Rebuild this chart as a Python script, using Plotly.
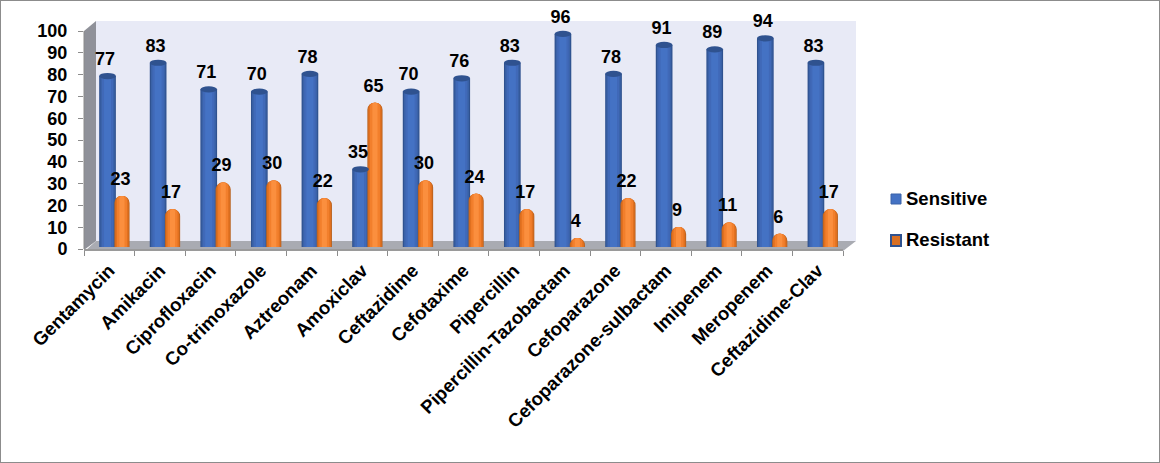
import plotly.graph_objects as go

categories = ["Gentamycin", "Amikacin", "Ciprofloxacin", "Co-trimoxazole", "Aztreonam", "Amoxiclav",
              "Ceftazidime", "Cefotaxime", "Pipercillin", "Pipercillin-Tazobactam", "Cefoparazone",
              "Cefoparazone-sulbactam", "Imipenem", "Meropenem", "Ceftazidime-Clav"]
sensitive = [77, 83, 71, 70, 78, 35, 70, 76, 83, 96, 78, 91, 89, 94, 83]
resistant = [23, 17, 29, 30, 22, 65, 30, 24, 17, 4, 22, 9, 11, 6, 17]
y_ticks = list(range(0, 101, 10))

W, H = 1160, 463
X0, X1, Y0, Y1 = 84, 843, 249, 31      # front plot frame, pixels
px = lambda v: v / W
py = lambda v: 1 - v / H
FONT = "Liberation Sans"
xs = list(range(len(categories)))
S_OFF, S_W = -0.20, 0.33
R_OFF, R_W = 0.10, 0.30
UNIT = 2.22
Y_RANGE = [-(Y0 - 247) / UNIT, 247 / UNIT]
AXIS_UNIT = (Y0 - Y1) / 100

fig = go.Figure()

def layered(vals, off, wid, layers, radius=0):
    for frac, col in layers:
        fig.add_bar(x=xs, y=vals, offset=off + wid * (1 - frac) / 2, width=wid * frac, yaxis="y2",
                    marker=dict(color=col, line=dict(width=0), cornerradius=radius * frac),
                    showlegend=False, hoverinfo="skip")

blue_layers = [(1.0, "#2f528f"), (0.86, "#3a62a8"), (0.68, "#4069b8"), (0.42, "#4472c4")]
orange_layers = [(1.0, "#b9621f"), (0.88, "#e0701f"), (0.66, "#f27f2c"), (0.34, "#fb8f3e")]
layered(sensitive, S_OFF, S_W, blue_layers)
layered(resistant, R_OFF, R_W, orange_layers, radius=7)

label_gap = 3
fig.add_scatter(x=[i + S_OFF + S_W / 2 - 0.05 for i in xs], y=[v + label_gap for v in sensitive],
                yaxis="y2", mode="text", text=[f"<b>{v}</b>" for v in sensitive], textposition="top center",
                textfont=dict(family=FONT, size=18, color="#000"), showlegend=False,
                hoverinfo="skip", cliponaxis=False)
fig.add_scatter(x=[i + R_OFF + R_W / 2 - 0.03 for i in xs], y=[v + label_gap for v in resistant],
                yaxis="y2", mode="text", text=[f"<b>{v}</b>" for v in resistant], textposition="top center",
                textfont=dict(family=FONT, size=18, color="#000"), showlegend=False,
                hoverinfo="skip", cliponaxis=False)

TRANSPARENT = "rgba(0,0,0,0)"
fig.add_scatter(x=[None], y=[None], mode="markers", name="<b>Sensitive</b>", legendgroup="a",
                marker=dict(symbol="square", size=10, color=TRANSPARENT))
fig.add_scatter(x=[None], y=[None], mode="markers", name="<b>Resistant</b>", legendgroup="b",
                marker=dict(symbol="square", size=10, color=TRANSPARENT))
fig.add_scatter(x=[None], y=[None], xaxis="x2", showlegend=False, hoverinfo="skip")

def rect_px(x0, y0, x1, y1, fill, line=None, lw=0):
    return dict(type="rect", xref="paper", yref="paper", x0=px(x0), x1=px(x1), y0=py(y1), y1=py(y0),
                fillcolor=fill, line=dict(color=line, width=lw) if lw else dict(width=0), layer="below")

shapes = [
    dict(type="rect", xref="paper", yref="paper", x0=0, x1=1, y0=0, y1=1,
         line=dict(color="#8c8c8c", width=2), fillcolor="rgba(0,0,0,0)", layer="below"),
    rect_px(96, 21, 856, 241, "#e8eaf6"),
    dict(type="path", xref="paper", yref="paper", layer="below", line=dict(width=0), fillcolor="#8f9199",
         path=f"M {px(84)} {py(31)} L {px(96)} {py(21)} L {px(96)} {py(241)} L {px(84)} {py(250)} Z"),
    dict(type="path", xref="paper", yref="paper", layer="below", line=dict(width=0), fillcolor="#a9abb2",
         path=f"M {px(86)} {py(250)} L {px(96)} {py(241)} L {px(856)} {py(241)} L {px(843)} {py(251)} Z"),
    dict(type="line", xref="paper", yref="paper", x0=px(84), x1=px(84), y0=py(Y0), y1=py(Y1),
         line=dict(color="#8c8c8c", width=1), layer="below"),
    rect_px(891, 194, 901, 204, "#4472c4", "#3a62a8", 1),
    rect_px(891, 235, 901, 246, "#d96f22", "#2f528f", 2),
]
cap_h = 1.4
for i, v in enumerate(sensitive):
    shapes.append(dict(type="circle", xref="x", yref="y2", layer="above",
                       x0=i + S_OFF, x1=i + S_OFF + S_W, y0=v - cap_h, y1=v + cap_h,
                       fillcolor="#2f528f", line=dict(width=0)))

fig.update_layout(
    width=W, height=H, margin=dict(l=0, r=0, t=0, b=0, pad=0), autosize=False,
    paper_bgcolor="#ffffff", plot_bgcolor="rgba(0,0,0,0)",
    barmode="overlay", shapes=shapes,
    font=dict(family=FONT, color="#000"),
    xaxis=dict(domain=[px(X0), px(X1)], range=[-0.5, len(categories) - 0.5], tickmode="array", automargin=False,
               tickvals=xs, ticktext=[f"<b>{c}</b>" for c in categories], tickangle=-45, ticks="", showgrid=False, zeroline=False,
               showline=False, tickfont=dict(family=FONT, size=18.7, color="#000"), ticklabelstandoff=6),
    xaxis2=dict(domain=[px(X0), px(X1)], range=[-0.5, len(categories) - 0.5], overlaying="x", side="bottom", automargin=False,
                anchor="y", tickmode="array", tickvals=[i - 0.5 for i in range(len(categories) + 1)],
                ticktext=[""] * (len(categories) + 1), ticks="outside", ticklen=5, tickcolor="#8c8c8c",
                showgrid=False, zeroline=False, showline=True, linecolor="#9a9a9a", linewidth=2),
    yaxis=dict(domain=[py(Y0), 1], range=[0, Y0 / AXIS_UNIT], tickmode="array", tickvals=y_ticks, ticks="outside", automargin=False,
               ticktext=[f"<b>{t}</b>" for t in y_ticks],
               ticklen=5, tickcolor="#8c8c8c", showgrid=False, zeroline=False, showline=False,
               tickfont=dict(family=FONT, size=18, color="#000"), ticklabelstandoff=7),
    yaxis2=dict(range=Y_RANGE, overlaying="y", visible=False, automargin=False),
    legend=dict(x=px(866), y=py(179), xanchor="left", yanchor="top", tracegroupgap=14,
                bgcolor="rgba(0,0,0,0)", font=dict(family=FONT, size=18.5, color="#000"), itemwidth=30),
)
fig.write_html("out.html", post_script="document.body.style.margin='0';", config={"displayModeBar": False})
